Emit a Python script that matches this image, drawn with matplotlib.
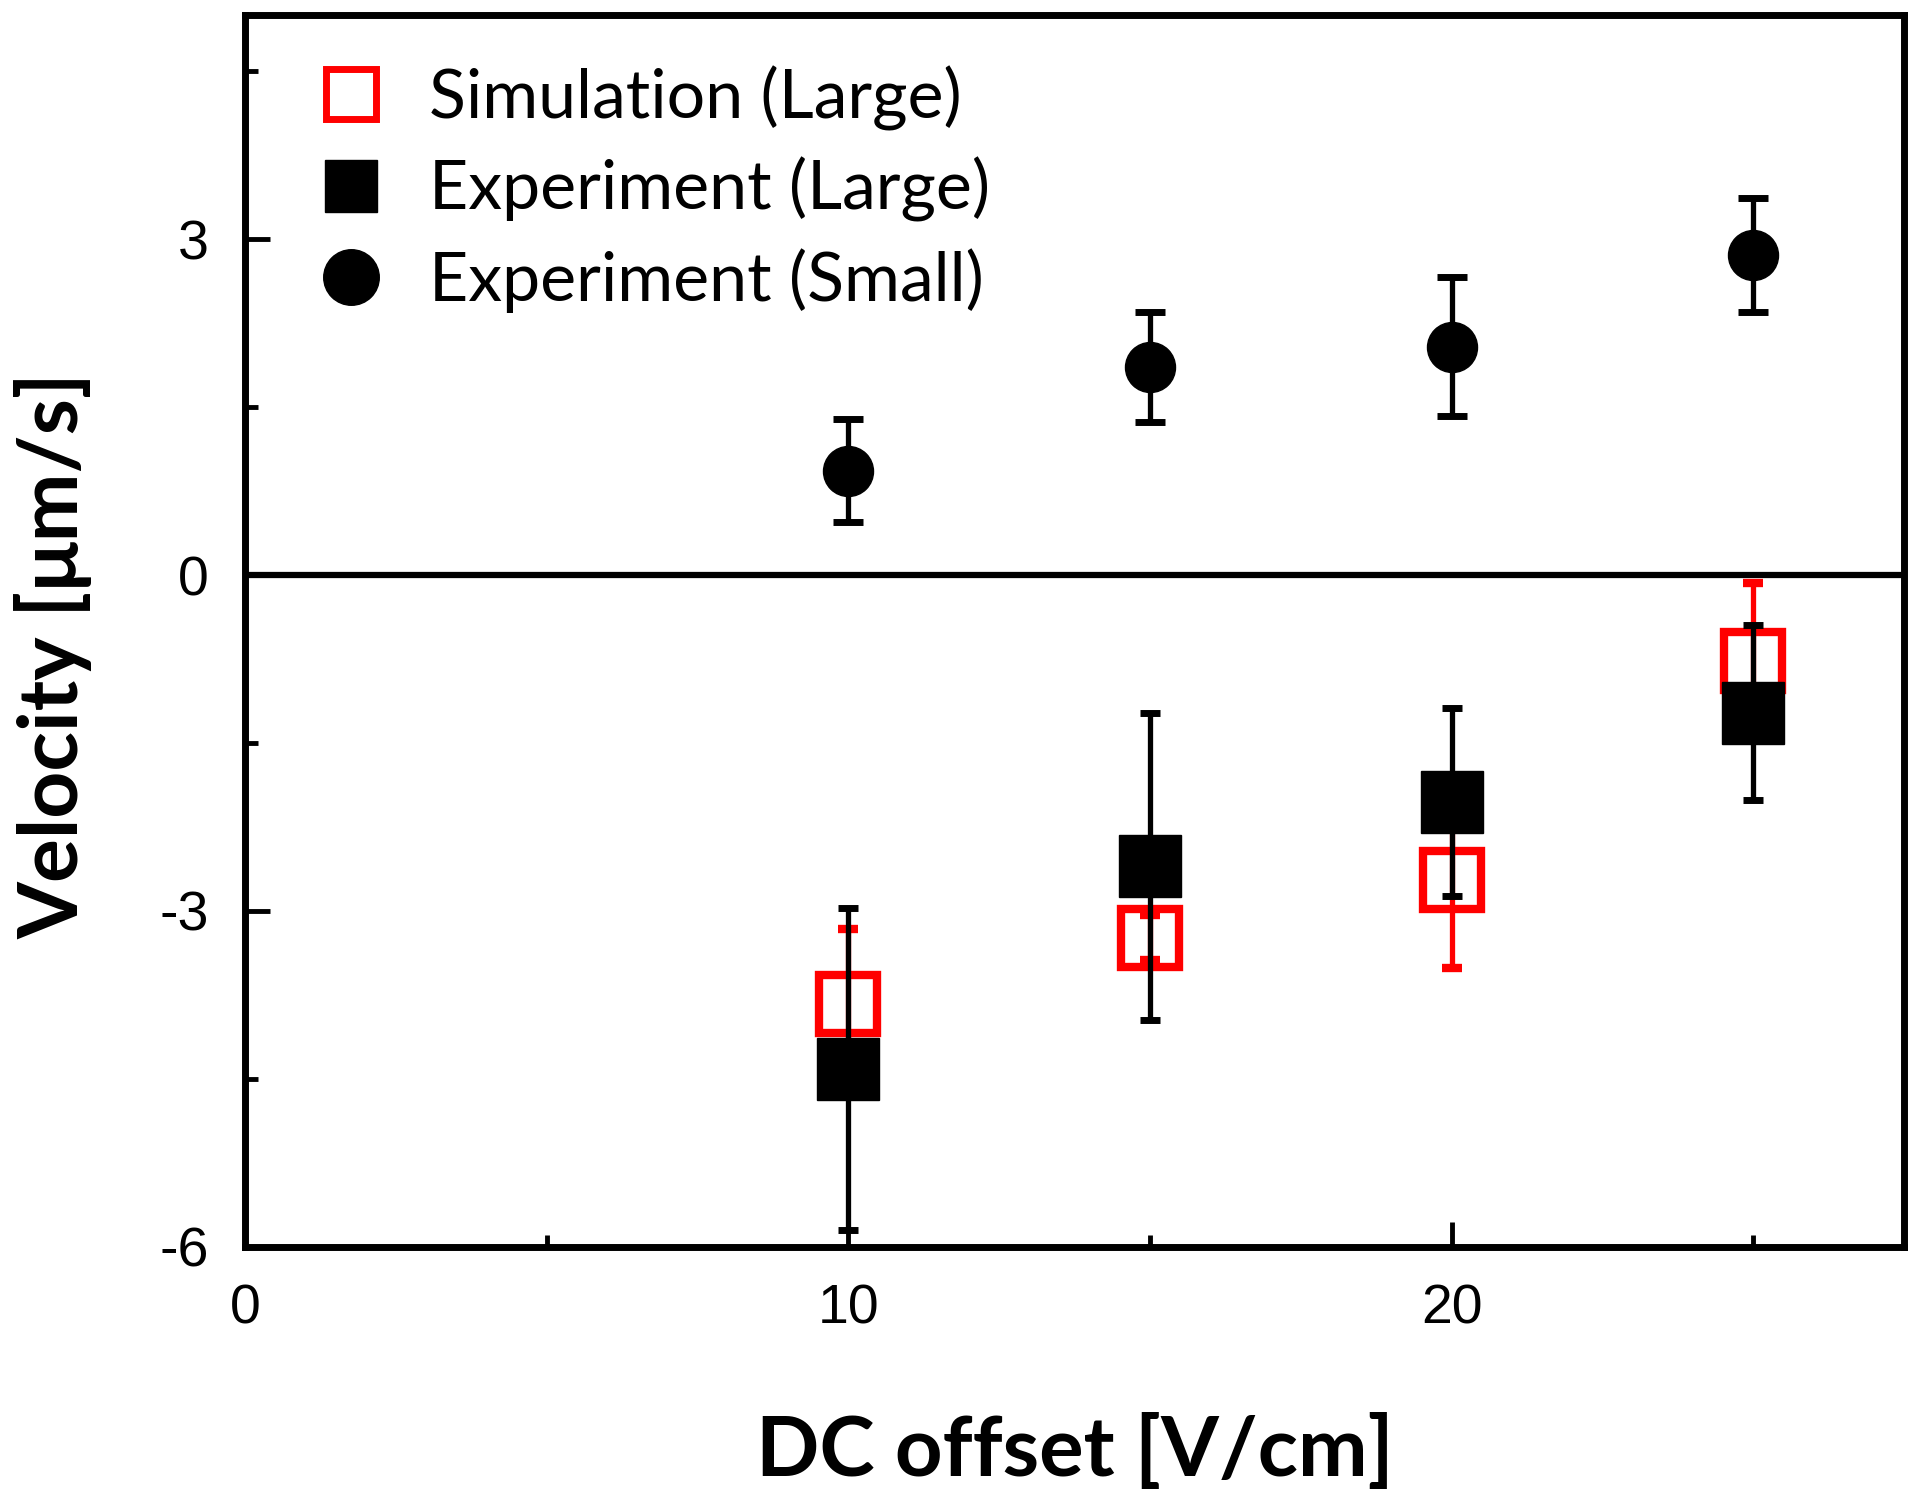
import matplotlib.pyplot as plt
from matplotlib.lines import Line2D
from matplotlib.ticker import MultipleLocator

# DC offset [V/cm]
dc_offset = [10, 15, 20, 25]

# simulation, large particles
sim_large = [-3.83, -3.24, -2.72, -0.77]
sim_large_err = [0.67, 0.20, 0.79, 0.70]

# experiment, large particles
exp_large = [-4.41, -2.60, -2.03, -1.23]
exp_large_err = [1.44, 1.37, 0.84, 0.78]

# experiment, small particles
exp_small = [0.93, 1.86, 2.04, 2.86]
exp_small_err = [0.46, 0.49, 0.62, 0.51]

legend_labels = ['Simulation (Large)', 'Experiment (Large)', 'Experiment (Small)']

tick_font = 'Liberation Sans'
text_font = 'Lato'
plt.rcParams['axes.unicode_minus'] = False

fig = plt.figure(figsize=(19.2, 15.06), dpi=100)
ax = fig.add_axes([0.1276, 0.172, 0.8641, 0.818])

ax.axhline(0, color='black', lw=4.5, zorder=2)

# simulation first so the experiment marks sit on top
ax.errorbar(dc_offset, sim_large, yerr=sim_large_err, fmt='s', ms=42,
            mfc='none', mec='red', mew=6, ecolor='red', elinewidth=3.8,
            capsize=7, capthick=5, zorder=3)
ax.errorbar(dc_offset, exp_large, yerr=exp_large_err, fmt='s', ms=45,
            mfc='black', mec='black', ecolor='black', elinewidth=3.8,
            capsize=7, capthick=5, zorder=4)
ax.errorbar(dc_offset, exp_small, yerr=exp_small_err, fmt='o', ms=36,
            mfc='black', mec='black', ecolor='black', elinewidth=3.8,
            capsize=11, capthick=5, zorder=4)

ax.set_xlim(0, 27.5)
ax.set_ylim(-6, 5)
ax.xaxis.set_major_locator(MultipleLocator(10))
ax.xaxis.set_minor_locator(MultipleLocator(5))
ax.yaxis.set_major_locator(MultipleLocator(3))
ax.yaxis.set_minor_locator(MultipleLocator(1.5))

ax.tick_params(which='major', direction='in', length=18, width=3.5,
               labelsize=40, pad=26)
ax.tick_params(which='minor', direction='in', length=9, width=3.5)
for lab in ax.get_xticklabels() + ax.get_yticklabels():
    lab.set_fontfamily(tick_font)

for sp in ax.spines.values():
    sp.set_linewidth(5)

ax.set_xlabel('DC offset [V/cm]', fontsize=60, fontweight='bold',
              family=text_font, labelpad=56)
ax.set_ylabel('Velocity [μm/s]', fontsize=59, fontweight='bold',
              family=text_font)
ax.yaxis.set_label_coords(-0.092, 0.48)

handles = [
    Line2D([], [], ls='none', marker='s', ms=36, mfc='none', mec='red', mew=5),
    Line2D([], [], ls='none', marker='s', ms=38, mfc='black', mec='black'),
    Line2D([], [], ls='none', marker='o', ms=40, mfc='black', mec='black'),
]
ax.legend(handles, legend_labels, loc='upper left', frameon=False,
          prop={'family': text_font, 'size': 49}, labelspacing=0.38,
          handlelength=1.4, handletextpad=0.45, borderpad=0,
          borderaxespad=0, bbox_to_anchor=(0.035, 0.959))

fig.savefig('out.png', dpi=100)
